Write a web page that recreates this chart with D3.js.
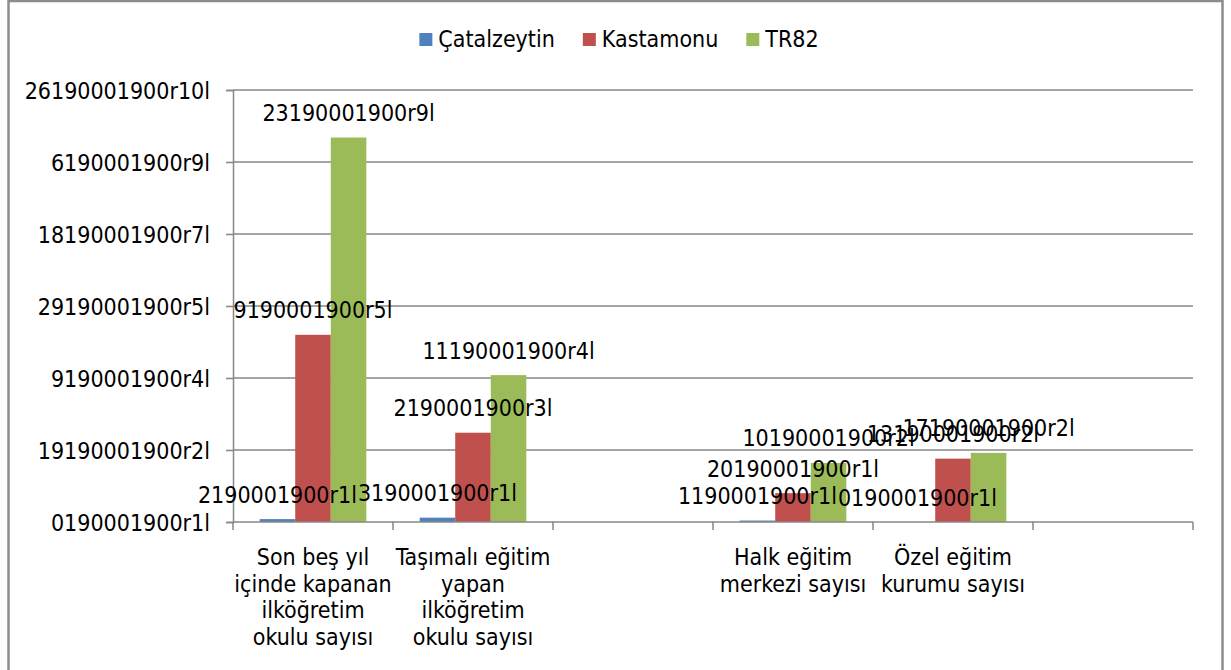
<!DOCTYPE html>
<html>
<head>
<meta charset="utf-8">
<script src="https://cdn.jsdelivr.net/npm/d3@7"></script>
<style>
  body { margin: 0; background: #fff; }
  text { font-family: "DejaVu Sans Condensed", "DejaVu Sans", sans-serif; font-stretch: condensed; font-size: 23px; fill: #000; }
</style>
</head>
<body>
<script>
var categories = [
  "Son beş yıl\niçinde kapanan\nilköğretim\nokulu sayısı",
  "Taşımalı eğitim\nyapan\nilköğretim\nokulu sayısı",
  "",
  "Halk eğitim\nmerkezi sayısı",
  "Özel eğitim\nkurumu sayısı",
  ""
]
var seriesNames = ["Çatalzeytin", "Kastamonu", "TR82"]
var seriesColors = ["#4F81BD", "#C0504D", "#9BBB59"]

var catalzeytin = [2, 3, null, 1, 0, null]
var kastamonu = [130, 62, null, 20, 44, null]
var tr82 = [267, 102, null, 41, 48, null]

var tickValues = [0, 50, 100, 150, 200, 250, 300]
var tickLabels = ["0190001900r1l", "19190001900r2l", "9190001900r4l", "29190001900r5l",
                  "18190001900r7l", "6190001900r9l", "26190001900r10l"]

var allSeries = [catalzeytin, kastamonu, tr82]

// the workbook shows the numbers through a broken date format (1900 serial, with the leap bug)
function dateLabel(v) {
  var days = [31, 29, 31, 30, 31, 30, 31, 31, 30, 31, 30, 31]
  var m = 0, d = v
  while (d > days[m]) { d -= days[m]; m++ }
  return d + "190001900r" + (m + 1) + "l"
}

var width = 1231, height = 670
var plot = {left: 233, right: 1193, top: 90, bottom: 522}

var svg = d3.select("body").append("svg")
            .attr("width", width)
            .attr("height", height)

svg.append("rect")
   .attr("x", 8.5).attr("y", 1)
   .attr("width", 1214).attr("height", 700)
   .style("fill", "#fff")
   .style("stroke", "#8c8c8c")
   .style("stroke-width", 2.5)

var y = d3.scaleLinear().domain([0, 300]).range([plot.bottom, plot.top])
var x = d3.scaleBand().domain(d3.range(categories.length)).range([plot.left, plot.right])
var xs = d3.scaleBand().domain(d3.range(seriesNames.length)).range([0, x.bandwidth()]).paddingOuter(0.75)

// gridlines
svg.append("g").selectAll("line")
   .data(tickValues.slice(1))
   .enter().append("line")
   .attr("x1", plot.left).attr("x2", plot.right)
   .attr("y1", function(d) { return y(d) }).attr("y2", function(d) { return y(d) })
   .style("stroke", "#878787").style("stroke-width", 1.5)

// y axis
var yAxis = svg.append("g")
   .attr("transform", "translate(" + plot.left + ",0)")
   .call(d3.axisLeft(y).tickValues(tickValues)
           .tickFormat(function(d, i) { return tickLabels[i] })
           .tickSize(7).tickPadding(16))
yAxis.select(".domain").style("stroke", "#878787").style("stroke-width", 1.5)
yAxis.selectAll(".tick line").style("stroke", "#878787").style("stroke-width", 1.5)
yAxis.selectAll("text").attr("dy", "0.36em").style("font-size", "23px")
     .style("font-family", "'DejaVu Sans Condensed', 'DejaVu Sans', sans-serif")

// bars
allSeries.forEach(function(values, s) {
  svg.append("g").selectAll("rect")
     .data(values.map(function(v, i) { return {v: v, i: i} }).filter(function(d) { return d.v !== null }))
     .enter().append("rect")
     .attr("x", function(d) { return x(d.i) + xs(s) })
     .attr("width", xs.bandwidth())
     .attr("y", function(d) { return y(d.v) })
     .attr("height", function(d) { return y(0) - y(d.v) })
     .style("fill", seriesColors[s])
})

// x axis
var xAxis = svg.append("g")
   .attr("transform", "translate(0," + plot.bottom + ")")
xAxis.append("line")
     .attr("x1", plot.left).attr("x2", plot.right)
     .style("stroke", "#878787").style("stroke-width", 1.5)
xAxis.selectAll(".xtick")
     .data(d3.range(categories.length + 1))
     .enter().append("line")
     .attr("class", "xtick")
     .attr("x1", function(d) { return plot.left + d * x.step() })
     .attr("x2", function(d) { return plot.left + d * x.step() })
     .attr("y1", 0).attr("y2", 8)
     .style("stroke", "#878787").style("stroke-width", 1.5)

xAxis.selectAll(".cat")
     .data(categories)
     .enter().append("text")
     .attr("class", "cat")
     .attr("text-anchor", "middle")
     .each(function(d, i) {
       var t = d3.select(this)
       d.split("\n").forEach(function(line, k) {
         if (line === "") return
         t.append("tspan")
          .attr("x", x(i) + x.bandwidth() / 2)
          .attr("y", 43 + k * 26.7)
          .text(line)
       })
     })

// data labels
allSeries.forEach(function(values, s) {
  svg.append("g").selectAll("text")
     .data(values.map(function(v, i) { return {v: v, i: i} }).filter(function(d) { return d.v !== null }))
     .enter().append("text")
     .attr("text-anchor", "middle")
     .attr("x", function(d) { return x(d.i) + xs(s) + xs.bandwidth() / 2 })
     .attr("y", function(d) { return y(d.v) - 16.5 })
     .text(function(d) { return dateLabel(d.v) })
})

// legend
var legend = svg.append("g")
var lx = 0
seriesNames.forEach(function(name, s) {
  legend.append("rect")
        .attr("x", lx).attr("y", 33)
        .attr("width", 13).attr("height", 13)
        .style("fill", seriesColors[s])
  var t = legend.append("text")
        .attr("x", lx + 19).attr("y", 47)
        .text(name)
  lx += 19 + t.node().getComputedTextLength() + 28
})
var lw = lx - 28
legend.attr("transform", "translate(" + (619 - lw / 2) + ",0)")
</script>
</body>
</html>
